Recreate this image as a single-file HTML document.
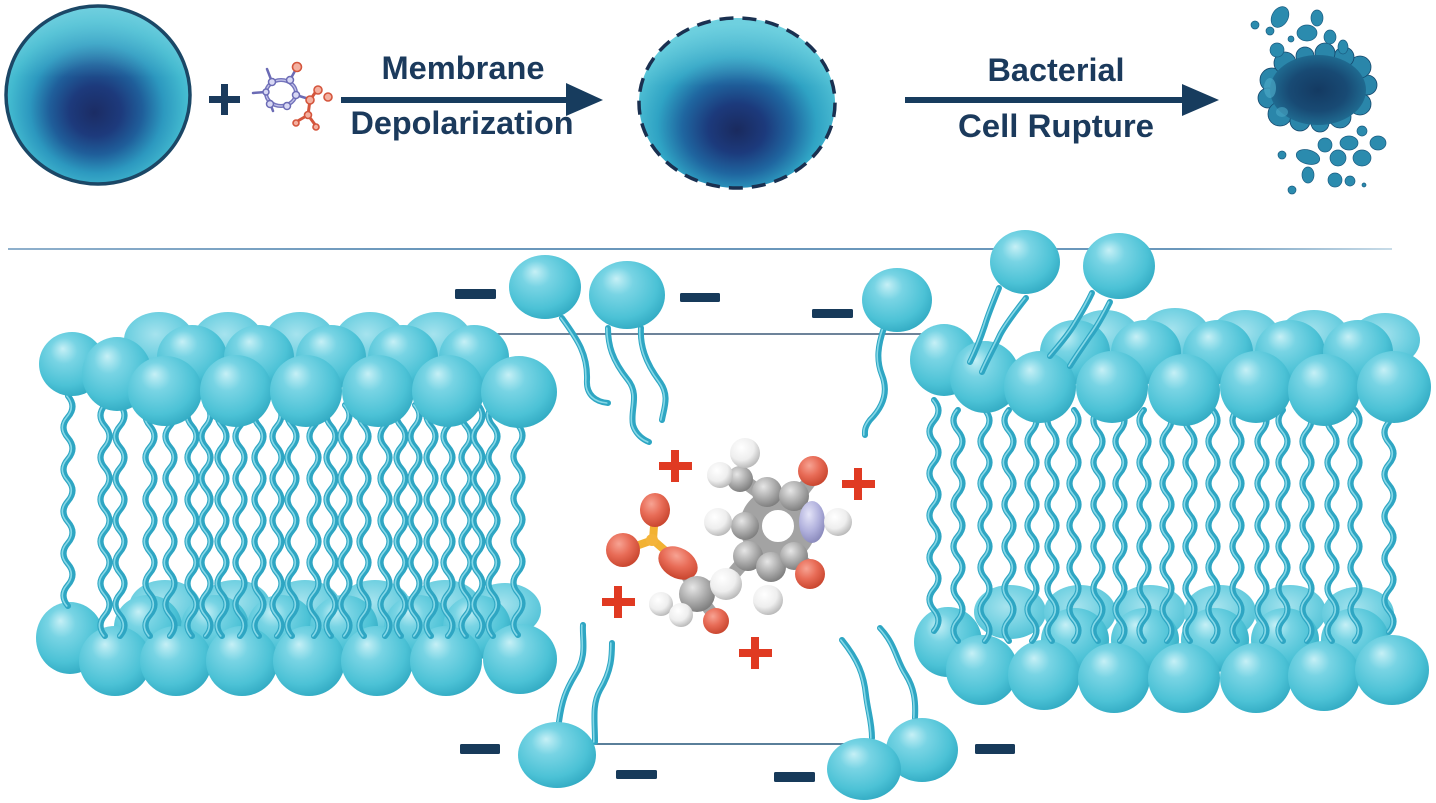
<!DOCTYPE html>
<html><head><meta charset="utf-8"><style>
html,body{margin:0;padding:0;background:#fff;}
svg{display:block;}
</style></head><body>
<svg width="1436" height="803" viewBox="0 0 1436 803" xmlns="http://www.w3.org/2000/svg">
<defs>
  <radialGradient id="hd" cx="0.42" cy="0.38" r="0.68" fx="0.36" fy="0.26">
    <stop offset="0" stop-color="#c6f0f6"/>
    <stop offset="0.3" stop-color="#78d4e4"/>
    <stop offset="0.72" stop-color="#4cc2d6"/>
    <stop offset="1" stop-color="#2ea7c0"/>
  </radialGradient>
  <radialGradient id="hdb" cx="0.45" cy="0.4" r="0.65">
    <stop offset="0" stop-color="#a6e3ee"/>
    <stop offset="0.6" stop-color="#70d0e1"/>
    <stop offset="1" stop-color="#4fc0d5"/>
  </radialGradient>
  <radialGradient id="cell1" cx="0.5" cy="0.56" r="0.56" fx="0.48" fy="0.6">
    <stop offset="0" stop-color="#1b2c64"/>
    <stop offset="0.25" stop-color="#1d3a7c"/>
    <stop offset="0.45" stop-color="#1f5e9a"/>
    <stop offset="0.65" stop-color="#2c98bf"/>
    <stop offset="0.85" stop-color="#42b9cf"/>
    <stop offset="1" stop-color="#5ac6d8"/>
  </radialGradient>
  <radialGradient id="cell2" cx="0.5" cy="0.62" r="0.58" fx="0.5" fy="0.66">
    <stop offset="0" stop-color="#1a2a5e"/>
    <stop offset="0.25" stop-color="#1c3a7c"/>
    <stop offset="0.48" stop-color="#1f66a0"/>
    <stop offset="0.7" stop-color="#2fa3c4"/>
    <stop offset="1" stop-color="#5ac8d9"/>
  </radialGradient>
  <linearGradient id="topLight" x1="0" y1="0" x2="0" y2="1">
    <stop offset="0" stop-color="#7fd6e4" stop-opacity="0.6"/>
    <stop offset="0.4" stop-color="#7fd6e4" stop-opacity="0"/>
  </linearGradient>
  <radialGradient id="blob" cx="0.5" cy="0.5" r="0.5">
    <stop offset="0" stop-color="#143a62"/>
    <stop offset="0.6" stop-color="#184a74"/>
    <stop offset="1" stop-color="#1f6a90"/>
  </radialGradient>
  <linearGradient id="lineG" x1="8" y1="0" x2="1392" y2="0" gradientUnits="userSpaceOnUse">
    <stop offset="0" stop-color="#8fb0cc"/>
    <stop offset="0.3" stop-color="#6a97bb"/>
    <stop offset="0.85" stop-color="#6a97bb"/>
    <stop offset="1" stop-color="#c8dce8"/>
  </linearGradient>
  <radialGradient id="gC" cx="0.38" cy="0.32" r="0.7">
    <stop offset="0" stop-color="#e6e6e6"/>
    <stop offset="0.5" stop-color="#b2b2b2"/>
    <stop offset="1" stop-color="#7e7e7e"/>
  </radialGradient>
  <radialGradient id="gH" cx="0.38" cy="0.32" r="0.7">
    <stop offset="0" stop-color="#ffffff"/>
    <stop offset="0.6" stop-color="#eeeeee"/>
    <stop offset="1" stop-color="#b9b9b9"/>
  </radialGradient>
  <radialGradient id="gO" cx="0.38" cy="0.32" r="0.7">
    <stop offset="0" stop-color="#f7a393"/>
    <stop offset="0.5" stop-color="#e86c57"/>
    <stop offset="1" stop-color="#c9462f"/>
  </radialGradient>
  <radialGradient id="gN" cx="0.38" cy="0.32" r="0.7">
    <stop offset="0" stop-color="#e4e4f8"/>
    <stop offset="0.6" stop-color="#b0b0dc"/>
    <stop offset="1" stop-color="#8a8abc"/>
  </radialGradient>

  <g id="tailsL" fill="none" stroke-linecap="round">
    <path d="M68,396 q9,10.5 0,21 t0,21 t0,21 t0,21 t0,21 t0,21 t0,21 t0,21 t0,21 t0,21"/>
    <path d="M105,405 q-9,10.5 0,21 t0,21 t0,21 t0,21 t0,21 t0,21 t0,21 t0,21 t0,21 t0,21 t0,21"/>
    <path d="M120,405 q9,10.5 0,21 t0,21 t0,21 t0,21 t0,21 t0,21 t0,21 t0,21 t0,21 t0,21 t0,21"/>
    <path d="M150,405 q-9,10.5 0,21 t0,21 t0,21 t0,21 t0,21 t0,21 t0,21 t0,21 t0,21 t0,21 t0,21"/>
    <path d="M170,405 q9,10.5 0,21 t0,21 t0,21 t0,21 t0,21 t0,21 t0,21 t0,21 t0,21 t0,21 t0,21"/>
    <path d="M192,405 q-9,10.5 0,21 t0,21 t0,21 t0,21 t0,21 t0,21 t0,21 t0,21 t0,21 t0,21 t0,21"/>
    <path d="M206,405 q9,10.5 0,21 t0,21 t0,21 t0,21 t0,21 t0,21 t0,21 t0,21 t0,21 t0,21 t0,21"/>
    <path d="M222,405 q-9,10.5 0,21 t0,21 t0,21 t0,21 t0,21 t0,21 t0,21 t0,21 t0,21 t0,21 t0,21"/>
    <path d="M240,405 q9,10.5 0,21 t0,21 t0,21 t0,21 t0,21 t0,21 t0,21 t0,21 t0,21 t0,21 t0,21"/>
    <path d="M259,405 q-9,10.5 0,21 t0,21 t0,21 t0,21 t0,21 t0,21 t0,21 t0,21 t0,21 t0,21 t0,21"/>
    <path d="M277,405 q9,10.5 0,21 t0,21 t0,21 t0,21 t0,21 t0,21 t0,21 t0,21 t0,21 t0,21 t0,21"/>
    <path d="M292,405 q-9,10.5 0,21 t0,21 t0,21 t0,21 t0,21 t0,21 t0,21 t0,21 t0,21 t0,21 t0,21"/>
    <path d="M314,405 q9,10.5 0,21 t0,21 t0,21 t0,21 t0,21 t0,21 t0,21 t0,21 t0,21 t0,21 t0,21"/>
    <path d="M331,405 q-9,10.5 0,21 t0,21 t0,21 t0,21 t0,21 t0,21 t0,21 t0,21 t0,21 t0,21 t0,21"/>
    <path d="M345,405 q9,10.5 0,21 t0,21 t0,21 t0,21 t0,21 t0,21 t0,21 t0,21 t0,21 t0,21 t0,21"/>
    <path d="M364,405 q-9,10.5 0,21 t0,21 t0,21 t0,21 t0,21 t0,21 t0,21 t0,21 t0,21 t0,21 t0,21"/>
    <path d="M385,405 q9,10.5 0,21 t0,21 t0,21 t0,21 t0,21 t0,21 t0,21 t0,21 t0,21 t0,21 t0,21"/>
    <path d="M401,405 q-9,10.5 0,21 t0,21 t0,21 t0,21 t0,21 t0,21 t0,21 t0,21 t0,21 t0,21 t0,21"/>
    <path d="M415,405 q9,10.5 0,21 t0,21 t0,21 t0,21 t0,21 t0,21 t0,21 t0,21 t0,21 t0,21 t0,21"/>
    <path d="M431,405 q-9,10.5 0,21 t0,21 t0,21 t0,21 t0,21 t0,21 t0,21 t0,21 t0,21 t0,21 t0,21"/>
    <path d="M448,405 q9,10.5 0,21 t0,21 t0,21 t0,21 t0,21 t0,21 t0,21 t0,21 t0,21 t0,21 t0,21"/>
    <path d="M466,405 q-9,10.5 0,21 t0,21 t0,21 t0,21 t0,21 t0,21 t0,21 t0,21 t0,21 t0,21 t0,21"/>
    <path d="M478,405 q9,10.5 0,21 t0,21 t0,21 t0,21 t0,21 t0,21 t0,21 t0,21 t0,21 t0,21 t0,21"/>
    <path d="M493,405 q-9,10.5 0,21 t0,21 t0,21 t0,21 t0,21 t0,21 t0,21 t0,21 t0,21 t0,21 t0,21"/>
    <path d="M518,425 q9,10.5 0,21 t0,21 t0,21 t0,21 t0,21 t0,21 t0,21 t0,21 t0,21 t0,21"/>
  </g>

  <g id="tailsR" fill="none" stroke-linecap="round">
    <path d="M934,400 q9,10.5 0,21 t0,21 t0,21 t0,21 t0,21 t0,21 t0,21 t0,21 t0,21 t0,21 t0,21"/>
    <path d="M958,410 q-9,10.5 0,21 t0,21 t0,21 t0,21 t0,21 t0,21 t0,21 t0,21 t0,21 t0,21 t0,21"/>
    <path d="M985,410 q9,10.5 0,21 t0,21 t0,21 t0,21 t0,21 t0,21 t0,21 t0,21 t0,21 t0,21 t0,21"/>
    <path d="M1009,410 q-9,10.5 0,21 t0,21 t0,21 t0,21 t0,21 t0,21 t0,21 t0,21 t0,21 t0,21 t0,21"/>
    <path d="M1032,410 q9,10.5 0,21 t0,21 t0,21 t0,21 t0,21 t0,21 t0,21 t0,21 t0,21 t0,21 t0,21"/>
    <path d="M1052,410 q-9,10.5 0,21 t0,21 t0,21 t0,21 t0,21 t0,21 t0,21 t0,21 t0,21 t0,21 t0,21"/>
    <path d="M1074,410 q9,10.5 0,21 t0,21 t0,21 t0,21 t0,21 t0,21 t0,21 t0,21 t0,21 t0,21 t0,21"/>
    <path d="M1098,410 q-9,10.5 0,21 t0,21 t0,21 t0,21 t0,21 t0,21 t0,21 t0,21 t0,21 t0,21 t0,21"/>
    <path d="M1120,410 q9,10.5 0,21 t0,21 t0,21 t0,21 t0,21 t0,21 t0,21 t0,21 t0,21 t0,21 t0,21"/>
    <path d="M1144,410 q-9,10.5 0,21 t0,21 t0,21 t0,21 t0,21 t0,21 t0,21 t0,21 t0,21 t0,21 t0,21"/>
    <path d="M1167,410 q9,10.5 0,21 t0,21 t0,21 t0,21 t0,21 t0,21 t0,21 t0,21 t0,21 t0,21 t0,21"/>
    <path d="M1190,410 q-9,10.5 0,21 t0,21 t0,21 t0,21 t0,21 t0,21 t0,21 t0,21 t0,21 t0,21 t0,21"/>
    <path d="M1213,410 q9,10.5 0,21 t0,21 t0,21 t0,21 t0,21 t0,21 t0,21 t0,21 t0,21 t0,21 t0,21"/>
    <path d="M1237,410 q-9,10.5 0,21 t0,21 t0,21 t0,21 t0,21 t0,21 t0,21 t0,21 t0,21 t0,21 t0,21"/>
    <path d="M1262,410 q9,10.5 0,21 t0,21 t0,21 t0,21 t0,21 t0,21 t0,21 t0,21 t0,21 t0,21 t0,21"/>
    <path d="M1283,410 q-9,10.5 0,21 t0,21 t0,21 t0,21 t0,21 t0,21 t0,21 t0,21 t0,21 t0,21 t0,21"/>
    <path d="M1307,410 q9,10.5 0,21 t0,21 t0,21 t0,21 t0,21 t0,21 t0,21 t0,21 t0,21 t0,21 t0,21"/>
    <path d="M1332,410 q-9,10.5 0,21 t0,21 t0,21 t0,21 t0,21 t0,21 t0,21 t0,21 t0,21 t0,21 t0,21"/>
    <path d="M1355,410 q9,10.5 0,21 t0,21 t0,21 t0,21 t0,21 t0,21 t0,21 t0,21 t0,21 t0,21 t0,21"/>
    <path d="M1389,422 q-9,10.5 0,21 t0,21 t0,21 t0,21 t0,21 t0,21 t0,21 t0,21 t0,21 t0,21"/>
  </g>

  <g id="tailsP" fill="none" stroke-linecap="round">
    <path d="M562,318 C578,340 588,355 587,380 C586,395 596,402 608,403"/>
    <path d="M608,328 C608,345 612,360 628,380 C640,395 630,410 633,425 C636,435 644,440 649,442"/>
    <path d="M641,328 C640,345 645,362 660,382 C670,396 664,408 662,420"/>
    <path d="M884,328 C878,345 876,360 882,375 C890,395 880,410 870,420 C864,428 865,432 865,435"/>
    <path d="M559,722 C562,700 566,690 575,675 C588,655 582,640 583,625"/>
    <path d="M595,742 C595,720 592,705 600,690 C612,670 612,655 612,643"/>
    <path d="M872,738 C872,722 868,712 866,695 C864,675 858,660 842,640"/>
    <path d="M915,718 C916,700 914,688 906,675 C896,660 896,645 880,628"/>
    <path d="M999,288 C992,305 988,315 985,325 C980,340 976,350 970,362"/>
    <path d="M1026,298 C1015,312 1005,325 1000,335 C994,348 988,358 982,372"/>
    <path d="M1092,293 C1085,308 1078,318 1074,325 C1066,338 1058,346 1050,356"/>
    <path d="M1110,302 C1102,318 1096,328 1090,336 C1082,348 1076,356 1070,366"/>
  </g>
</defs>

<rect width="1436" height="803" fill="#ffffff"/>

<!-- ================= TOP ROW ================= -->
<ellipse cx="98" cy="95" rx="92" ry="89" fill="url(#cell1)"/>
<ellipse cx="98" cy="95" rx="92" ry="89" fill="url(#topLight)"/>
<ellipse cx="98" cy="95" rx="92" ry="89" fill="none" stroke="#1b4766" stroke-width="3.5"/>

<rect x="209" y="96" width="31" height="7" fill="#1a3a5c"/>
<rect x="221" y="84" width="7" height="31" fill="#1a3a5c"/>

<g stroke-linecap="round">
  <g stroke="#6b6bb5" stroke-width="2.5">
    <line x1="266" y1="92" x2="253" y2="93"/>
    <line x1="272" y1="82" x2="267" y2="69"/>
    <line x1="270" y1="103" x2="273" y2="111"/>
    <line x1="290" y1="80" x2="296" y2="69"/>
    <line x1="296" y1="95" x2="309" y2="99"/>
  </g>
  <ellipse cx="281" cy="93" rx="15" ry="13" fill="none" stroke="#7474bc" stroke-width="4"/>
  <ellipse cx="281" cy="93" rx="15" ry="13" fill="none" stroke="#c4c4ea" stroke-width="1.2"/>
  <g fill="#d8d8f4" stroke="#6b6bb5" stroke-width="1.5">
    <circle cx="272" cy="82" r="3.5"/><circle cx="290" cy="80" r="3.5"/>
    <circle cx="296" cy="95" r="3.5"/><circle cx="287" cy="106" r="3.5"/>
    <circle cx="270" cy="104" r="3.5"/><circle cx="266" cy="92" r="3"/>
  </g>
  <g stroke="#d4553c" stroke-width="3">
    <line x1="310" y1="100" x2="317" y2="90"/>
    <line x1="310" y1="100" x2="308" y2="115"/>
    <line x1="308" y1="115" x2="296" y2="122"/>
    <line x1="308" y1="115" x2="316" y2="126"/>
  </g>
  <g fill="#f4b0a0" stroke="#d4553c" stroke-width="1.6">
    <circle cx="297" cy="67" r="4.5"/>
    <circle cx="310" cy="100" r="4"/><circle cx="318" cy="90" r="4"/>
    <circle cx="328" cy="97" r="4"/><circle cx="308" cy="115" r="3.5"/>
    <circle cx="296" cy="123" r="3"/><circle cx="316" cy="127" r="3"/>
  </g>
</g>

<rect x="341" y="97" width="232" height="6" fill="#173c5e"/>
<polygon points="566,83 603,100 566,116" fill="#173c5e"/>
<text x="463" y="79" text-anchor="middle" font-family="Liberation Sans, Arial, sans-serif" font-weight="bold" font-size="32" fill="#1b3a5c" textLength="163" lengthAdjust="spacingAndGlyphs">Membrane</text>
<text x="462" y="134" text-anchor="middle" font-family="Liberation Sans, Arial, sans-serif" font-weight="bold" font-size="32" fill="#1b3a5c" textLength="223" lengthAdjust="spacingAndGlyphs">Depolarization</text>

<ellipse cx="737" cy="103" rx="98" ry="85" fill="url(#cell2)"/>
<ellipse cx="737" cy="103" rx="98" ry="85" fill="url(#topLight)"/>
<ellipse cx="737" cy="103" rx="98" ry="85" fill="none" stroke="#1a3050" stroke-width="3.5" stroke-dasharray="14 9"/>

<rect x="905" y="97" width="282" height="6" fill="#173c5e"/>
<polygon points="1182,84 1219,100 1182,116" fill="#173c5e"/>
<text x="1056" y="81" text-anchor="middle" font-family="Liberation Sans, Arial, sans-serif" font-weight="bold" font-size="32" fill="#1b3a5c" textLength="137" lengthAdjust="spacingAndGlyphs">Bacterial</text>
<text x="1056" y="137" text-anchor="middle" font-family="Liberation Sans, Arial, sans-serif" font-weight="bold" font-size="32" fill="#1b3a5c" textLength="196" lengthAdjust="spacingAndGlyphs">Cell Rupture</text>

<g>
  <g fill="#2a86aa" stroke="#14476c" stroke-width="0.8">
    <circle cx="1272" cy="80" r="12"/><circle cx="1268" cy="98" r="10"/>
    <circle cx="1280" cy="114" r="12"/><circle cx="1300" cy="121" r="10"/>
    <circle cx="1320" cy="123" r="9"/><circle cx="1340" cy="117" r="11"/>
    <circle cx="1360" cy="104" r="11"/><circle cx="1367" cy="85" r="10"/>
    <circle cx="1360" cy="67" r="11"/><circle cx="1344" cy="57" r="10"/>
    <circle cx="1325" cy="53" r="10"/><circle cx="1305" cy="56" r="9"/>
    <circle cx="1285" cy="63" r="11"/>
  </g>
  <ellipse cx="1318" cy="90" rx="48" ry="35" fill="url(#blob)"/>
  <ellipse cx="1270" cy="88" rx="6" ry="10" fill="#4aa7c4" opacity="0.7"/>
  <ellipse cx="1282" cy="112" rx="6" ry="5" fill="#4aa7c4" opacity="0.6"/>
  <g fill="#2b8bae" stroke="#1a5d82" stroke-width="0.7">
    <ellipse cx="1280" cy="17" rx="8" ry="11" transform="rotate(30 1280 17)"/>
    <ellipse cx="1317" cy="18" rx="6" ry="8"/>
    <circle cx="1255" cy="25" r="4"/><circle cx="1270" cy="31" r="4"/>
    <ellipse cx="1307" cy="33" rx="10" ry="8"/>
    <ellipse cx="1330" cy="37" rx="6" ry="7"/>
    <circle cx="1291" cy="39" r="3"/>
    <circle cx="1277" cy="50" r="7"/>
    <ellipse cx="1343" cy="47" rx="5" ry="7"/>
    <circle cx="1362" cy="131" r="5"/>
    <ellipse cx="1325" cy="145" rx="7" ry="7"/>
    <ellipse cx="1349" cy="143" rx="9" ry="7"/>
    <ellipse cx="1378" cy="143" rx="8" ry="7"/>
    <circle cx="1282" cy="155" r="4"/>
    <ellipse cx="1308" cy="157" rx="12" ry="7" transform="rotate(15 1308 157)"/>
    <circle cx="1338" cy="158" r="8"/>
    <ellipse cx="1362" cy="158" rx="9" ry="8"/>
    <ellipse cx="1308" cy="175" rx="6" ry="8"/>
    <circle cx="1335" cy="180" r="7"/>
    <circle cx="1350" cy="181" r="5"/>
    <circle cx="1292" cy="190" r="4"/>
    <circle cx="1364" cy="185" r="2"/>
  </g>
</g>

<!-- ================= MEMBRANE ================= -->
<line x1="8" y1="249" x2="1392" y2="249" stroke="url(#lineG)" stroke-width="2"/>
<line x1="469" y1="334" x2="922" y2="334" stroke="#3d5a78" stroke-width="1.6"/>
<line x1="595" y1="744" x2="846" y2="744" stroke="#5a7f9a" stroke-width="2"/>

<g fill="url(#hdb)">
  <ellipse cx="165" cy="607" rx="36" ry="27"/><ellipse cx="235" cy="607" rx="36" ry="27"/>
  <ellipse cx="305" cy="607" rx="36" ry="27"/><ellipse cx="375" cy="607" rx="36" ry="27"/>
  <ellipse cx="445" cy="607" rx="36" ry="27"/><ellipse cx="505" cy="610" rx="36" ry="27"/>
</g>
<g fill="url(#hd)">
  <ellipse cx="148" cy="627" rx="34" ry="32"/><ellipse cx="215" cy="627" rx="34" ry="32"/>
  <ellipse cx="281" cy="627" rx="34" ry="32"/><ellipse cx="344" cy="627" rx="34" ry="32"/>
  <ellipse cx="418" cy="627" rx="34" ry="32"/><ellipse cx="477" cy="627" rx="34" ry="32"/>
  <ellipse cx="70" cy="638" rx="34" ry="36"/>
  <ellipse cx="115" cy="661" rx="36" ry="35"/><ellipse cx="176" cy="661" rx="36" ry="35"/>
  <ellipse cx="242" cy="661" rx="36" ry="35"/><ellipse cx="309" cy="661" rx="36" ry="35"/>
  <ellipse cx="377" cy="661" rx="36" ry="35"/><ellipse cx="446" cy="661" rx="36" ry="35"/>
  <ellipse cx="520" cy="659" rx="37" ry="35"/>
</g>

<g fill="url(#hdb)">
  <ellipse cx="1010" cy="612" rx="36" ry="27"/><ellipse cx="1080" cy="612" rx="36" ry="27"/>
  <ellipse cx="1150" cy="612" rx="36" ry="27"/><ellipse cx="1220" cy="612" rx="36" ry="27"/>
  <ellipse cx="1290" cy="612" rx="36" ry="27"/><ellipse cx="1358" cy="614" rx="36" ry="27"/>
</g>
<g fill="url(#hd)">
  <ellipse cx="1075" cy="640" rx="34" ry="32"/><ellipse cx="1145" cy="640" rx="34" ry="32"/>
  <ellipse cx="1215" cy="640" rx="34" ry="32"/><ellipse cx="1285" cy="640" rx="34" ry="32"/>
  <ellipse cx="1355" cy="640" rx="34" ry="32"/>
  <ellipse cx="948" cy="642" rx="34" ry="35"/>
  <ellipse cx="982" cy="670" rx="36" ry="35"/><ellipse cx="1044" cy="675" rx="36" ry="35"/>
  <ellipse cx="1114" cy="678" rx="36" ry="35"/><ellipse cx="1184" cy="678" rx="36" ry="35"/>
  <ellipse cx="1256" cy="678" rx="36" ry="35"/><ellipse cx="1324" cy="676" rx="36" ry="35"/>
  <ellipse cx="1392" cy="670" rx="37" ry="35"/>
</g>

<use href="#tailsL" stroke="#2ea6c3" stroke-width="6"/>
<use href="#tailsL" stroke="#86d8e7" stroke-width="1.6" transform="translate(-1.2,0)"/>
<use href="#tailsR" stroke="#2ea6c3" stroke-width="6"/>
<use href="#tailsR" stroke="#86d8e7" stroke-width="1.6" transform="translate(-1.2,0)"/>

<g fill="url(#hdb)">
  <ellipse cx="159" cy="340" rx="35" ry="28"/><ellipse cx="228" cy="340" rx="35" ry="28"/>
  <ellipse cx="300" cy="340" rx="35" ry="28"/><ellipse cx="370" cy="340" rx="35" ry="28"/>
  <ellipse cx="437" cy="340" rx="35" ry="28"/>
</g>
<g fill="url(#hd)">
  <ellipse cx="192" cy="357" rx="35" ry="32"/><ellipse cx="259" cy="357" rx="35" ry="32"/>
  <ellipse cx="331" cy="357" rx="35" ry="32"/><ellipse cx="403" cy="357" rx="35" ry="32"/>
  <ellipse cx="474" cy="357" rx="35" ry="32"/>
  <ellipse cx="72" cy="364" rx="33" ry="32"/>
  <ellipse cx="117" cy="374" rx="35" ry="37"/>
  <ellipse cx="165" cy="391" rx="37" ry="35"/>
  <ellipse cx="236" cy="391" rx="36" ry="36"/>
  <ellipse cx="306" cy="391" rx="36" ry="36"/>
  <ellipse cx="378" cy="391" rx="36" ry="36"/>
  <ellipse cx="448" cy="391" rx="36" ry="36"/>
  <ellipse cx="519" cy="392" rx="38" ry="36"/>
</g>

<g fill="url(#hdb)">
  <ellipse cx="1105" cy="337" rx="35" ry="27"/><ellipse cx="1175" cy="335" rx="35" ry="27"/>
  <ellipse cx="1245" cy="337" rx="35" ry="27"/><ellipse cx="1314" cy="337" rx="35" ry="27"/>
  <ellipse cx="1385" cy="340" rx="35" ry="27"/>
</g>
<g fill="url(#hd)">
  <ellipse cx="1075" cy="352" rx="35" ry="32"/><ellipse cx="1146" cy="352" rx="35" ry="32"/>
  <ellipse cx="1218" cy="352" rx="35" ry="32"/><ellipse cx="1290" cy="352" rx="35" ry="32"/>
  <ellipse cx="1358" cy="352" rx="35" ry="32"/>
  <ellipse cx="944" cy="360" rx="34" ry="36"/>
  <ellipse cx="985" cy="377" rx="35" ry="36"/>
  <ellipse cx="1040" cy="387" rx="36" ry="36"/>
  <ellipse cx="1112" cy="387" rx="36" ry="36"/>
  <ellipse cx="1184" cy="390" rx="36" ry="36"/>
  <ellipse cx="1256" cy="387" rx="36" ry="36"/>
  <ellipse cx="1324" cy="390" rx="36" ry="36"/>
  <ellipse cx="1394" cy="387" rx="37" ry="36"/>
</g>

<use href="#tailsP" stroke="#2ea6c3" stroke-width="6"/>
<use href="#tailsP" stroke="#86d8e7" stroke-width="1.6" transform="translate(-1.2,0)"/>

<g fill="url(#hd)">
  <ellipse cx="545" cy="287" rx="36" ry="32"/>
  <ellipse cx="627" cy="295" rx="38" ry="34"/>
  <ellipse cx="897" cy="300" rx="35" ry="32"/>
  <ellipse cx="557" cy="755" rx="39" ry="33"/>
  <ellipse cx="922" cy="750" rx="36" ry="32"/>
  <ellipse cx="864" cy="769" rx="37" ry="31"/>
  <ellipse cx="1025" cy="262" rx="35" ry="32"/>
  <ellipse cx="1119" cy="266" rx="36" ry="33"/>
</g>

<g fill="#173a5a">
  <rect x="455" y="289" width="41" height="10" rx="1.5"/>
  <rect x="680" y="293" width="40" height="9" rx="1.5"/>
  <rect x="812" y="309" width="41" height="9" rx="1.5"/>
  <rect x="460" y="744" width="40" height="10" rx="1.5"/>
  <rect x="616" y="770" width="41" height="9" rx="1.5"/>
  <rect x="774" y="772" width="41" height="10" rx="1.5"/>
  <rect x="975" y="744" width="40" height="10" rx="1.5"/>
</g>

<g fill="#e03a22">
  <rect x="659" y="462" width="33" height="8"/><rect x="671" y="450" width="8" height="32"/>
  <rect x="842" y="480" width="33" height="8"/><rect x="854" y="468" width="8" height="32"/>
  <rect x="602" y="598" width="33" height="8"/><rect x="614" y="586" width="8" height="32"/>
  <rect x="739" y="649" width="33" height="8"/><rect x="751" y="637" width="8" height="32"/>
</g>

<g>
  <g stroke="#a3a3a3" stroke-linecap="round" fill="none">
    <circle cx="778" cy="526" r="27" stroke-width="22"/>
    <line x1="767" y1="498" x2="740" y2="478" stroke-width="14"/>
    <line x1="795" y1="500" x2="812" y2="478" stroke-width="14"/>
    <line x1="792" y1="554" x2="810" y2="568" stroke-width="14"/>
    <line x1="752" y1="552" x2="728" y2="580" stroke-width="14"/>
    <line x1="728" y1="580" x2="697" y2="594" stroke-width="14"/>
    <line x1="697" y1="594" x2="716" y2="618" stroke-width="12"/>
    <line x1="697" y1="594" x2="677" y2="562" stroke-width="10"/>
  </g>
  <g stroke="#f2b233" stroke-width="8" stroke-linecap="round">
    <line x1="653" y1="540" x2="655" y2="512"/>
    <line x1="653" y1="540" x2="625" y2="550"/>
    <line x1="653" y1="540" x2="676" y2="560"/>
  </g>
  <ellipse cx="655" cy="510" rx="15" ry="17" fill="url(#gO)"/>
  <circle cx="623" cy="550" r="17" fill="url(#gO)"/>
  <ellipse cx="678" cy="563" rx="21" ry="15" transform="rotate(30 678 563)" fill="url(#gO)"/>
  <circle cx="652" cy="540" r="6" fill="#f4b43a"/>
  <g fill="url(#gC)">
    <circle cx="767" cy="492" r="15"/>
    <circle cx="794" cy="496" r="15"/>
    <circle cx="745" cy="526" r="14"/>
    <circle cx="748" cy="556" r="15"/>
    <circle cx="771" cy="567" r="15"/>
    <circle cx="794" cy="556" r="14"/>
    <circle cx="740" cy="479" r="13"/>
    <circle cx="697" cy="594" r="18"/>
  </g>
  <ellipse cx="812" cy="522" rx="13" ry="21" fill="url(#gN)"/>
  <circle cx="813" cy="471" r="15" fill="url(#gO)"/>
  <circle cx="810" cy="574" r="15" fill="url(#gO)"/>
  <circle cx="716" cy="621" r="13" fill="url(#gO)"/>
  <g fill="url(#gH)">
    <circle cx="745" cy="453" r="15"/>
    <circle cx="720" cy="475" r="13"/>
    <circle cx="718" cy="522" r="14"/>
    <circle cx="838" cy="522" r="14"/>
    <circle cx="768" cy="600" r="15"/>
    <circle cx="661" cy="604" r="12"/>
    <circle cx="681" cy="615" r="12"/>
    <circle cx="726" cy="584" r="16"/>
  </g>
  <circle cx="780" cy="526" r="11" fill="#ffffff"/>
</g>
</svg>
</body></html>
